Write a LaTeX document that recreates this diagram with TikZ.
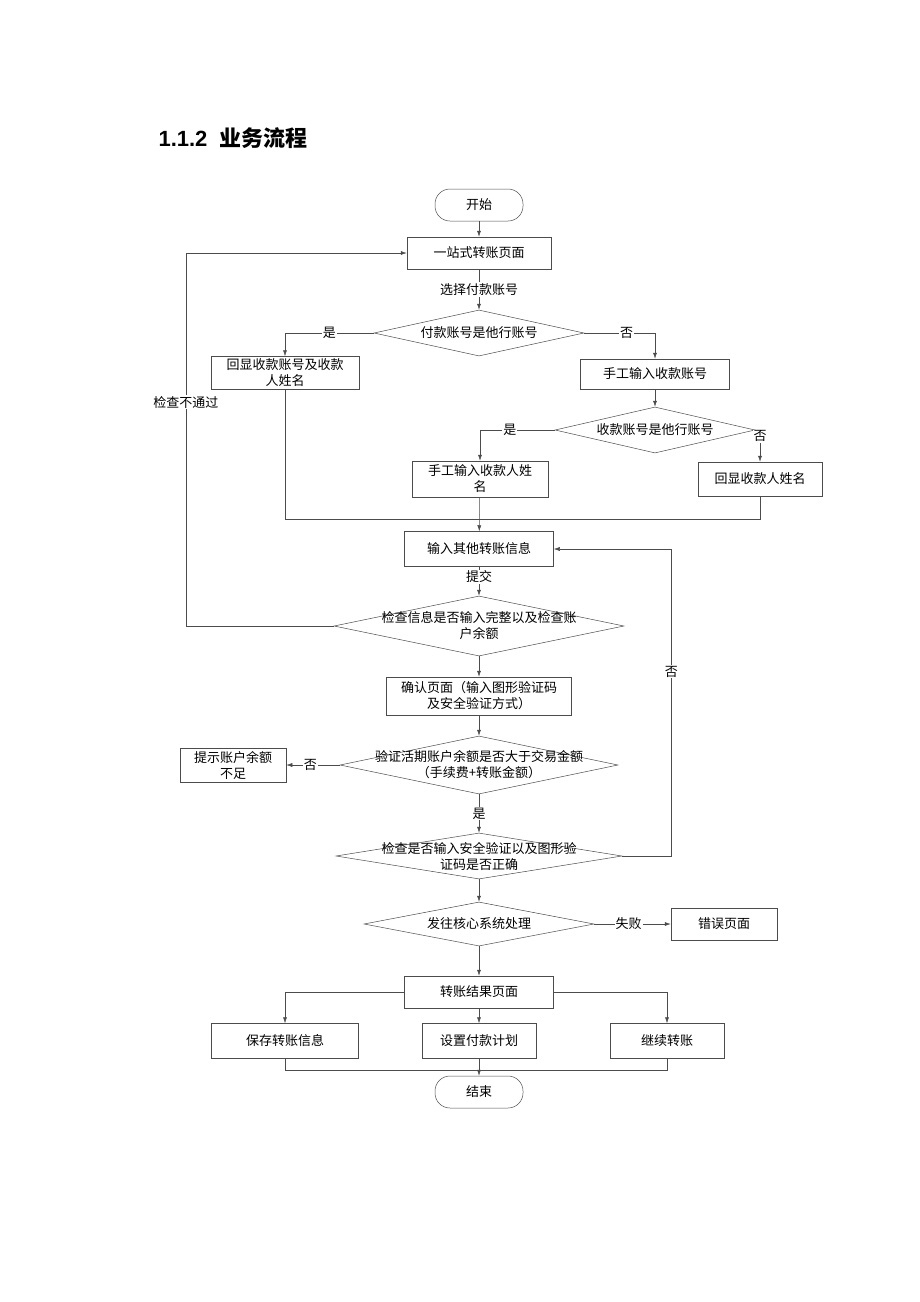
\documentclass[tikz,border=0pt]{standalone}
\usepackage{fontspec}
\setmainfont{Liberation Serif}
\newfontfamily\cjk{Noto Sans CJK SC}
\newfontfamily\titlefont{Liberation Sans}
\usetikzlibrary{shapes.geometric,arrows.meta,positioning}
\tikzset{
	box/.style={rectangle, draw=black!70, line width=0.5pt, inner sep=1pt, align=center, font=\cjk\fontsize{13}{16}\selectfont},
	term/.style={rectangle, rounded corners=15pt, draw=black!70, line width=0.5pt, minimum width=88pt, minimum height=32pt, font=\cjk\fontsize{13}{16}\selectfont},
	dia/.style={diamond, draw=black!70, line width=0.5pt, inner sep=0pt, label={[align=center, font=\cjk\fontsize{13}{16}\selectfont]center:#1}},
	lbl/.style={fill=white, inner sep=1pt, font=\cjk\fontsize{13}{16}\selectfont},
	line/.style={draw=black!70, line width=0.5pt},
	arr/.style={line, -{Latex[length=6pt,width=4pt]}}
}
\begin{document}
\begin{tikzpicture}[x=1pt,y=-1pt]
		
		\useasboundingbox (0,0) rectangle (920,1302);
		
		%Title
		\node (title) at (155,138) [anchor=west, font=\titlefont\bfseries\fontsize{22}{24}\selectfont]{1.1.2\ \ {\cjk\bfseries 业务流程}};
		
		%Top part
		\node (start) at (479,205) [term]{开始};
		\node (page) at (479,253) [box, minimum width=144pt, minimum height=32pt]{一站式转账页面};
		\node (dPay) at (479,333) [dia={付款账号是他行账号}, minimum width=210pt, minimum height=46pt]{};
		\node (showAcc) at (285,373) [box, minimum width=148pt, minimum height=33pt]{回显收款账号及收款\\人姓名};
		\node (inAcc) at (655,374) [box, minimum width=149pt, minimum height=30pt]{手工输入收款账号};
		\node (dRecv) at (655,430) [dia={收款账号是他行账号}, minimum width=200pt, minimum height=46pt]{};
		\node (inName) at (480,479) [box, minimum width=136pt, minimum height=36pt]{手工输入收款人姓\\名};
		\node (showName) at (760,479) [box, minimum width=124pt, minimum height=34pt]{回显收款人姓名};
		\coordinate (mergeA) at (480,519);
		
		%Middle part
		\node (other) at (479,549) [box, minimum width=149pt, minimum height=35pt]{输入其他转账信息};
		\node (dCheck) at (479,626) [dia={检查信息是否输入完整以及检查账\\户余额}, minimum width=290pt, minimum height=60pt]{};
		\node (confirm) at (479,696) [box, minimum width=185pt, minimum height=38pt]{确认页面（输入图形验证码\\及安全验证方式）};
		\node (dBal) at (479,765) [dia={验证活期账户余额是否大于交易金额\\（手续费+转账金额）}, minimum width=278pt, minimum height=58pt]{};
		\node (lack) at (233,765) [box, minimum width=106pt, minimum height=34pt]{提示账户余额\\不足};
		\node (dSafe) at (479,856) [dia={检查是否输入安全验证以及图形验\\证码是否正确}, minimum width=286pt, minimum height=46pt]{};
		\node (dCore) at (479,924) [dia={发往核心系统处理}, minimum width=230pt, minimum height=44pt]{};
		\node (err) at (724,924) [box, minimum width=106pt, minimum height=32pt]{错误页面};
		
		%Bottom part
		\node (result) at (479,992) [box, minimum width=149pt, minimum height=32pt]{转账结果页面};
		\node (save) at (285,1041) [box, minimum width=147pt, minimum height=35pt]{保存转账信息};
		\node (plan) at (479,1041) [box, minimum width=114pt, minimum height=35pt]{设置付款计划};
		\node (cont) at (667,1041) [box, minimum width=114pt, minimum height=35pt]{继续转账};
		\node (end) at (479,1092) [term]{结束};
		\coordinate (mergeB) at (479,1070);
		
		%Connectors
		\draw[arr] (start) -- (page);
		\draw[arr] (page) -- node[lbl]{选择付款账号} (dPay);
		\draw[arr] (dPay.west) -| node[lbl, pos=0.25]{是} (showAcc);
		\draw[arr] (dPay.east) -| node[lbl, pos=0.3]{否} (inAcc);
		\draw[arr] (inAcc) -- (dRecv);
		\draw[arr] (dRecv.west) -| node[lbl, pos=0.3]{是} (inName);
		\draw[arr] (dRecv.east) -| node[lbl, pos=0.6]{否} (showName);
		\draw[line] (showAcc) |- (mergeA);
		\draw[line] (showName) |- (mergeA);
		\draw[arr] (inName) -- (other);
		\draw[arr] (other) -- node[lbl, pos=0.35]{提交} (dCheck);
		\draw[arr] (dCheck.west) -- ++(-148,0) |- node[lbl, pos=0.3]{检查不通过} (page.west);
		\draw[arr] (dCheck) -- (confirm);
		\draw[arr] (confirm) -- (dBal);
		\draw[arr] (dBal.west) -- node[lbl, pos=0.55]{否} (lack);
		\draw[arr] (dBal) -- node[lbl]{是} (dSafe);
		\draw[arr] (dSafe.east) -- ++(49,0) |- node[lbl, pos=0.3]{否} (other.east);
		\draw[arr] (dSafe) -- (dCore);
		\draw[arr] (dCore.east) -- node[lbl, pos=0.45]{失败} (err);
		\draw[arr] (dCore) -- (result);
		\draw[arr] (result.west) -| (save);
		\draw[arr] (result) -- (plan);
		\draw[arr] (result.east) -| (cont);
		\draw[line] (save) |- (mergeB);
		\draw[line] (cont) |- (mergeB);
		\draw[arr] (plan) -- (end);
		
\end{tikzpicture}
\end{document}
